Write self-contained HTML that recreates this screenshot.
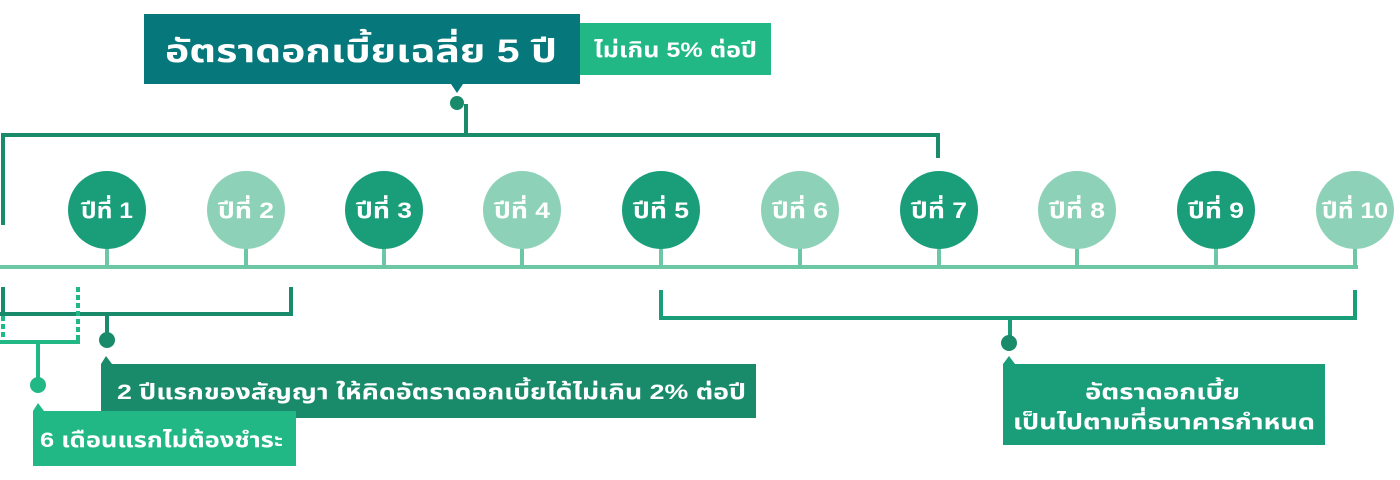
<!DOCTYPE html>
<html><head><meta charset="utf-8"><style>
html,body{margin:0;padding:0;background:#fff;width:1400px;height:480px;overflow:hidden}
svg text{font-family:"Liberation Sans","Noto Sans Thai","Loma","Garuda",sans-serif;fill:#fff}
</style></head><body>
<svg width="1400" height="480" viewBox="0 0 1400 480" xmlns="http://www.w3.org/2000/svg">
<rect x="144" y="14" width="436" height="70" fill="#06777b"/>
<polygon points="451,84 463,84 457,93" fill="#06777b"/>
<text x="165" y="62" font-size="32" font-weight="bold" textLength="392" lengthAdjust="spacingAndGlyphs">อัตราดอกเบี้ยเฉลี่ย 5 ปี</text>
<rect x="580" y="23" width="191" height="52" fill="#22b886"/>
<text x="594" y="57" font-size="21" font-weight="bold" textLength="163" lengthAdjust="spacingAndGlyphs">ไม่เกิน 5% ต่อปี</text>
<circle cx="457" cy="103" r="7" fill="#198b6b"/>
<g stroke="#198b6b" stroke-width="4" fill="none">
<path d="M466 104 V135"/>
<path d="M3 225 V135 H938 V158"/>
</g>
<rect x="0" y="265" width="1358" height="4" fill="#6cc7a5"/>
<g stroke="#6cc7a5" stroke-width="4">
<path d="M107 230V267M246 230V267M384 230V267M522 230V267M661 230V267M800 230V267M939 230V267M1077 230V267M1216 230V267M1355 230V267"/>
</g>
<g font-size="22" font-weight="bold" text-anchor="middle">
<circle cx="107" cy="210" r="39" fill="#1a9e7a"/><text x="107" y="218" textLength="52" lengthAdjust="spacingAndGlyphs">ปีที่ 1</text>
<circle cx="246" cy="210" r="39" fill="#8dd2b8"/><text x="246" y="218" textLength="56" lengthAdjust="spacingAndGlyphs">ปีที่ 2</text>
<circle cx="384" cy="210" r="39" fill="#1a9e7a"/><text x="384" y="218" textLength="56" lengthAdjust="spacingAndGlyphs">ปีที่ 3</text>
<circle cx="522" cy="210" r="39" fill="#8dd2b8"/><text x="522" y="218" textLength="56" lengthAdjust="spacingAndGlyphs">ปีที่ 4</text>
<circle cx="661" cy="210" r="39" fill="#1a9e7a"/><text x="661" y="218" textLength="56" lengthAdjust="spacingAndGlyphs">ปีที่ 5</text>
<circle cx="800" cy="210" r="39" fill="#8dd2b8"/><text x="800" y="218" textLength="56" lengthAdjust="spacingAndGlyphs">ปีที่ 6</text>
<circle cx="939" cy="210" r="39" fill="#1a9e7a"/><text x="939" y="218" textLength="56" lengthAdjust="spacingAndGlyphs">ปีที่ 7</text>
<circle cx="1077" cy="210" r="39" fill="#8dd2b8"/><text x="1077" y="218" textLength="56" lengthAdjust="spacingAndGlyphs">ปีที่ 8</text>
<circle cx="1216" cy="210" r="39" fill="#1a9e7a"/><text x="1216" y="218" textLength="56" lengthAdjust="spacingAndGlyphs">ปีที่ 9</text>
<circle cx="1355" cy="210" r="39" fill="#8dd2b8"/><text x="1355" y="218" textLength="66" lengthAdjust="spacingAndGlyphs">ปีที่ 10</text>
</g>
<g stroke="#198b6b" stroke-width="4" fill="none">
<path d="M3 287 V314 M0 314 H293 M291 287 V314 M107 314 V340"/>
</g>
<circle cx="107" cy="340" r="8" fill="#198b6b"/>
<rect x="101" y="364" width="655" height="54" fill="#198b6b"/>
<polygon points="101,364 106,356 112,364" fill="#198b6b"/>
<text x="117" y="399" font-size="21" font-weight="bold" textLength="629" lengthAdjust="spacingAndGlyphs">2 ปีแรกของสัญญา ให้คิดอัตราดอกเบี้ยได้ไม่เกิน 2% ต่อปี</text>
<g stroke="#22b886" stroke-width="4" fill="none">
<path d="M78 287 V342" stroke-dasharray="5,3"/>
<path d="M3 316 V342" stroke-dasharray="5,3"/>
<path d="M0 342 H80"/>
<path d="M38 342 V385"/>
</g>
<circle cx="38" cy="385" r="8" fill="#22b886"/>
<rect x="33" y="411" width="263" height="55" fill="#22b886"/>
<polygon points="33,411 38,403 44,411" fill="#22b886"/>
<text x="40" y="447" font-size="21" font-weight="bold" textLength="243" lengthAdjust="spacingAndGlyphs">6 เดือนแรกไม่ต้องชำระ</text>
<g stroke="#1a9e7a" stroke-width="4" fill="none">
<path d="M661 290 V318 H1355 V290 M1010 318 V342"/>
</g>
<circle cx="1009" cy="343" r="8" fill="#198b6b"/>
<rect x="1003" y="364" width="322" height="81" fill="#1a9e7a"/>
<polygon points="1003,364 1009,356 1015,364" fill="#1a9e7a"/>
<text x="1085" y="399" font-size="21" font-weight="bold" textLength="155" lengthAdjust="spacingAndGlyphs">อัตราดอกเบี้ย</text>
<text x="1013" y="429" font-size="21" font-weight="bold" textLength="302" lengthAdjust="spacingAndGlyphs">เป็นไปตามที่ธนาคารกำหนด</text>
</svg>
</body></html>
